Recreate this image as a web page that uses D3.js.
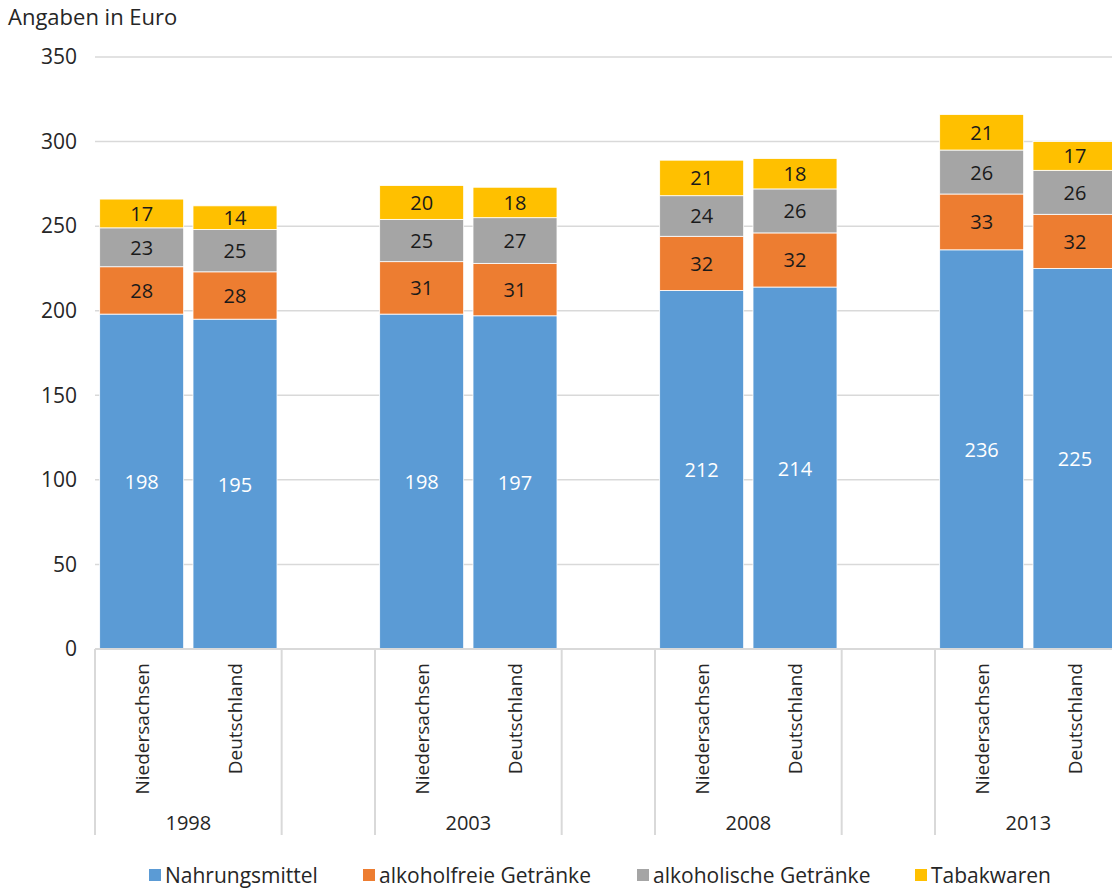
<!DOCTYPE html>
<html>
<head>
<meta charset="utf-8">
<script src="https://cdn.jsdelivr.net/npm/d3@7"></script>
<style>
  body { margin: 0; background: #fff; }
  svg text { font-family: "Open Sans", "Noto Sans", sans-serif; fill: #262626; }
</style>
</head>
<body>
<div id="chart"></div>
<script>
// data
const years = ['1998', '2003', '2008', '2013'];
const regions = ['Niedersachsen', 'Deutschland'];
const series = ['Nahrungsmittel', 'alkoholfreie Getränke', 'alkoholische Getränke', 'Tabakwaren'];
const colors = ['#5B9BD5', '#ED7D31', '#A5A5A5', '#FFC000'];
// one row per year, each [Niedersachsen, Deutschland]
const nahrung = [[198, 195], [198, 197], [212, 214], [236, 225]];
const alkFrei = [[28, 28], [31, 31], [32, 32], [33, 32]];
const alkohol = [[23, 25], [25, 27], [24, 26], [26, 26]];
const tabak = [[17, 14], [20, 18], [21, 18], [21, 17]];
const yTicks = [0, 50, 100, 150, 200, 250, 300, 350];

const values = [nahrung, alkFrei, alkohol, tabak];

let rows = [];
years.forEach((yr, i) => {
  regions.forEach((r, j) => {
    let row = { year: yr, region: r };
    series.forEach((s, k) => { row[s] = values[k][i][j]; });
    rows.push(row);
  });
});

const W = 1112, H = 888;
const plotLeft = 95, plotTop = 57, plotBottom = 649;
const groupW = 280;

const svg = d3.select('#chart').append('svg')
  .attr('width', W)
  .attr('height', H);

const x0 = d3.scaleBand()
  .domain(years)
  .range([plotLeft, plotLeft + groupW * years.length]);

// third empty slot per year, like the excel blank category
const x1 = d3.scaleBand()
  .domain(regions.concat(['']))
  .range([0, x0.bandwidth()])
  .paddingInner(0.1)
  .paddingOuter(0.05);

const y = d3.scaleLinear()
  .domain([0, 350])
  .range([plotBottom, plotTop]);

// gridlines
svg.append('g')
  .selectAll('line')
  .data(yTicks.filter(d => d > 0))
  .enter().append('line')
  .attr('x1', plotLeft)
  .attr('x2', W)
  .attr('y1', d => y(d))
  .attr('y2', d => y(d))
  .attr('stroke', '#d9d9d9')
  .attr('stroke-width', 1.5);

// y labels
const yAxis = d3.axisLeft(y).tickValues(yTicks).tickSize(0).tickPadding(0);
const ya = svg.append('g')
  .attr('transform', 'translate(77,0)')
  .call(yAxis);
ya.select('.domain').remove();
ya.selectAll('text')
  .style('font-size', '21px')
  .style('font-family', '"Open Sans", sans-serif')
  .attr('fill', '#262626');

svg.append('text')
  .attr('x', 8)
  .attr('y', 25)
  .style('font-size', '22px')
  .text('Angaben in Euro');

// stacked bars
const stack = d3.stack().keys(series);
const stacked = stack(rows);

const layers = svg.append('g')
  .selectAll('g')
  .data(stacked)
  .enter().append('g')
  .attr('fill', (d, i) => colors[i]);

layers.selectAll('rect')
  .data(d => d)
  .enter().append('rect')
  .attr('x', d => x0(d.data.year) + x1(d.data.region))
  .attr('width', x1.bandwidth())
  .attr('y', d => y(d[1]))
  .attr('height', d => y(d[0]) - y(d[1]))
  .attr('stroke', '#fff')
  .attr('stroke-width', 0.8);

layers.selectAll('text')
  .data((d, i) => d.map(p => ({ p: p, i: i })))
  .enter().append('text')
  .attr('x', d => x0(d.p.data.year) + x1(d.p.data.region) + x1.bandwidth() / 2)
  .attr('y', d => y((d.p[0] + d.p[1]) / 2))
  .attr('text-anchor', 'middle')
  .attr('dominant-baseline', 'central')
  .style('font-size', '20px')
  .style('fill', d => d.i === 0 ? '#fff' : '#1a1a1a')
  .text(d => d.p[1] - d.p[0]);

// category axis
svg.append('line')
  .attr('x1', plotLeft).attr('x2', W)
  .attr('y1', plotBottom).attr('y2', plotBottom)
  .attr('stroke', '#d9d9d9')
  .attr('stroke-width', 2);

let sepX = [];
years.forEach(yr => {
  sepX.push(x0(yr));
  sepX.push(x0(yr) + x0.bandwidth() * 2 / 3);
});

svg.append('g')
  .selectAll('line')
  .data(sepX)
  .enter().append('line')
  .attr('x1', d => d).attr('x2', d => d)
  .attr('y1', plotBottom).attr('y2', 835)
  .attr('stroke', '#d9d9d9')
  .attr('stroke-width', 2);

const catG = svg.append('g');
years.forEach(yr => {
  regions.forEach(r => {
    const cx = x0(yr) + x1(r) + x1.bandwidth() / 2;
    catG.append('text')
      .attr('transform', 'translate(' + cx + ',663) rotate(-90)')
      .attr('text-anchor', 'end')
      .attr('dominant-baseline', 'central')
      .style('font-size', '19px')
      .text(r);
  });
  catG.append('text')
    .attr('x', x0(yr) + x0.bandwidth() / 3)
    .attr('y', 822)
    .attr('text-anchor', 'middle')
    .attr('dominant-baseline', 'central')
    .style('font-size', '20px')
    .text(yr);
});

// legend
const legX = [149, 363, 637, 915];
const leg = svg.append('g')
  .selectAll('g')
  .data(series)
  .enter().append('g')
  .attr('transform', (d, i) => 'translate(' + legX[i] + ',869)');

leg.append('rect')
  .attr('width', 12)
  .attr('height', 12)
  .attr('fill', (d, i) => colors[i]);

leg.append('text')
  .attr('x', 16)
  .attr('y', 6)
  .attr('dominant-baseline', 'central')
  .style('font-size', '21px')
  .text(d => d);
</script>
</body>
</html>
